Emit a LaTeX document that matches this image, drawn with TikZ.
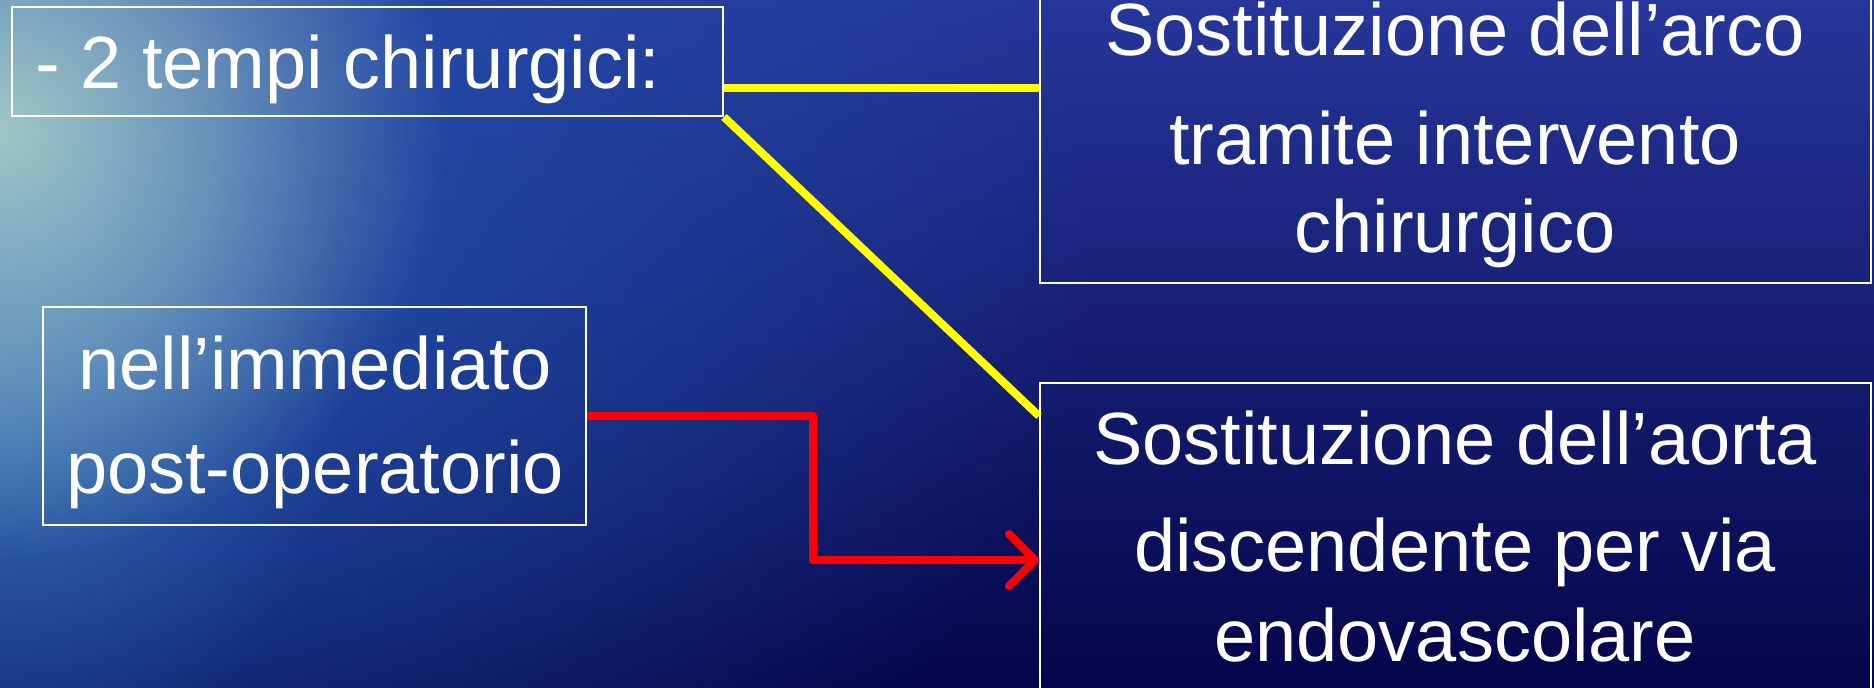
\documentclass[tikz,border=0pt]{standalone}
\usepackage{fontspec}
\setmainfont{Liberation Sans}
\usetikzlibrary{arrows.meta,fadings,calc}
\tikzfading[name=radF, inner color=transparent!0, outer color=transparent!100]
\definecolor{bgtop}{HTML}{26369A}
\definecolor{bgmid}{HTML}{08097A}
\definecolor{bgbot}{HTML}{05054A}
\definecolor{tealA}{HTML}{A0C6C6}
\definecolor{blueA}{HTML}{2458B2}
\definecolor{cyanB}{HTML}{3C7CBC}
\begin{document}
\begin{tikzpicture}[x=0.5pt,y=-0.5pt,
  box/.style={draw=white,line width=1pt,inner sep=0pt,rectangle},
  txt/.style={text=white,font=\fontsize{37}{44}\selectfont,inner sep=0pt,anchor=base},
  yline/.style={draw={rgb,255:red,255;green,255;blue,0},line width=4pt},
  rline/.style={draw={rgb,255:red,255;green,0;blue,0},line width=4pt,line join=round,
    -{Straight Barb[length=13pt,width=26pt,round]}}]
\useasboundingbox (0,0) rectangle (1874,688);
\clip (0,0) rectangle (1874,688);
% background
\shade[top color=bgtop, middle color=bgmid, bottom color=bgbot] (0,0) rectangle (1874,688);
\fill[blueA, path fading=radF] (-1100,-550) rectangle (1100,1050);
\fill[cyanB, path fading=radF, opacity=0.7] (-350,-100) rectangle (350,800);
\fill[tealA, path fading=radF] (-450,-300) rectangle (450,560);
% boxes
\node[box, minimum width=355.5pt, minimum height=54.5pt] (A) at (367.5,61.5) {};
\node[box, minimum width=415.5pt, minimum height=151.5pt] (D) at (1455.5,131.5) {};
\node[box, minimum width=415.5pt, minimum height=188.5pt] (B) at (1455.5,571.5) {};
\node[box, minimum width=271.5pt, minimum height=109pt] (C) at (314.5,416) {};
% texts
\node[txt, anchor=base west] (tA) at (35,89) {- 2 tempi chirurgici:};
\node[txt] (tD1) at (1455,56) {Sostituzione dell’arco};
\node[txt] (tD2) at (1455,165) {tramite intervento};
\node[txt] (tD3) at (1455,253) {chirurgico};
\node[txt] (tC1) at (315,390) {nell’immediato};
\node[txt] (tC2) at (315,494) {post-operatorio};
\node[txt] (tB1) at (1455,465) {Sostituzione dell’aorta};
\node[txt] (tB2) at (1455,572) {discendente per via};
\node[txt] (tB3) at (1455,662) {endovascolare};
% connectors
\coordinate (ya) at ($(A.south east)+(0,-29)$);
\draw[yline] (ya) -- (ya -| D.west);
\coordinate (yb) at ($(B.north west)+(0,34)$);
\draw[yline] (A.south east) -- (yb);
\coordinate (rb) at (813,560);
\draw[rline] (C.east) -| (rb) -- (rb -| B.west);
\end{tikzpicture}
\end{document}
